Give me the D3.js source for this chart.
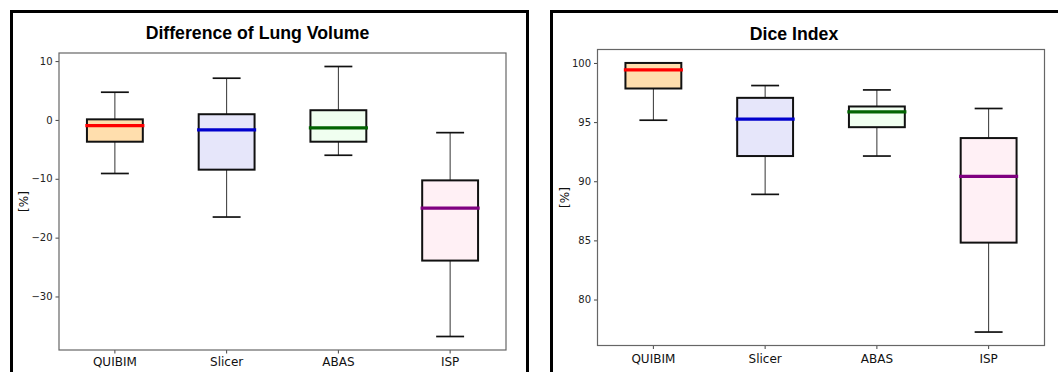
<!DOCTYPE html>
<html>
<head>
<meta charset="utf-8">
<script src="https://cdn.jsdelivr.net/npm/d3@7"></script>
<style>
  html, body { margin: 0; padding: 0; background: #fff; }
  svg { display: block; }
</style>
</head>
<body>
<svg id="fig" width="1058" height="372"></svg>
<script>
// Segmentation methods compared in both panels
const methods = ["QUIBIM", "Slicer", "ABAS", "ISP"];

// Difference of lung volume [%]: whisker low, Q1, median, Q3, whisker high
const volLow    = [-9.1, -16.5, -6.0, -36.8];
const volQ1     = [-3.7, -8.45, -3.7, -23.9];
const volMedian = [-0.97, -1.7, -1.36, -15.0];
const volQ3     = [0.1, 0.97, 1.65, -10.27];
const volHigh   = [4.71, 7.09, 9.08, -2.16];
const volTicks  = [10, 0, -10, -20, -30];

// Dice index [%]
const diceLow    = [95.16, 88.89, 92.13, 77.25];
const diceQ1     = [97.84, 92.13, 94.57, 84.81];
const diceMedian = [99.41, 95.25, 95.87, 90.41];
const diceQ3     = [100.0, 97.05, 96.32, 93.65];
const diceHigh   = [100.0, 98.09, 97.72, 96.15];
const diceTicks  = [100, 95, 90, 85, 80];

const boxFill    = ["#ffdead", "#e6e6fa", "#f0fff0", "#fff0f5"];
const medianColor = ["#ff0000", "#0000cd", "#006400", "#800080"];

const svg = d3.select("#fig");
const minus = v => String(v).replace("-", "\u2212");

// frames around each figure
svg.append("rect").attr("x", 11.5).attr("y", 11.5).attr("width", 516).attr("height", 400)
  .attr("fill", "none").attr("stroke", "#000").attr("stroke-width", 3);
svg.append("rect").attr("x", 551.5).attr("y", 11.5).attr("width", 600).attr("height", 400)
  .attr("fill", "none").attr("stroke", "#000").attr("stroke-width", 3);

function panel(cfg) {
  const { x0, x1, y0, y1, title, titleX, titleY, labelX, xLabelY,
          low, q1, med, q3, high, ticks } = cfg;
  const g = svg.append("g");

  const lo = d3.min(low), hi = d3.max(high), pad = (hi - lo) * 0.05;
  const y = d3.scaleLinear().domain([lo - pad, hi + pad]).range([y1, y0]);
  const x = d3.scaleBand().domain(methods).range([x0, x1]).padding(0);
  const bw = x.bandwidth();
  const cx = m => x(m) + bw / 2;

  const rows = methods.map((m, i) => ({
    m, i, low: low[i], q1: q1[i], med: med[i], q3: q3[i], high: high[i]
  }));

  // y axis
  const ya = g.append("g").attr("transform", `translate(${x0},0)`)
    .call(d3.axisLeft(y).tickValues(ticks).tickSize(3.5).tickPadding(3).tickFormat(minus));
  ya.select(".domain").remove();
  ya.selectAll("line").attr("stroke", "#444");
  ya.selectAll("text").attr("font-family", "DejaVu Sans").attr("font-size", 10).attr("fill", "#222");

  // x axis
  const xa = g.append("g").attr("transform", `translate(0,${y1})`)
    .call(d3.axisBottom(x).tickSize(3.5).tickPadding(4));
  xa.select(".domain").remove();
  xa.selectAll("line").attr("stroke", "#444");
  xa.selectAll("text").attr("font-family", "DejaVu Sans").attr("font-size", 12).attr("fill", "#111")
    .attr("y", null).attr("dy", null).attr("transform", `translate(0,${xLabelY - y1})`);

  // whiskers
  const items = g.selectAll(".item").data(rows).join("g");
  items.append("line").attr("x1", d => cx(d.m)).attr("x2", d => cx(d.m))
    .attr("y1", d => y(d.q3)).attr("y2", d => y(d.high))
    .attr("stroke", "#333").attr("stroke-width", 1);
  items.append("line").attr("x1", d => cx(d.m)).attr("x2", d => cx(d.m))
    .attr("y1", d => y(d.q1)).attr("y2", d => y(d.low))
    .attr("stroke", "#333").attr("stroke-width", 1);
  // caps
  [d => d.high, d => d.low].forEach(acc => {
    items.append("line")
      .attr("x1", d => cx(d.m) - bw * 0.125).attr("x2", d => cx(d.m) + bw * 0.125)
      .attr("y1", d => y(acc(d))).attr("y2", d => y(acc(d)))
      .attr("stroke", "#111").attr("stroke-width", 1.7);
  });
  // boxes
  items.append("rect")
    .attr("x", d => cx(d.m) - bw * 0.25).attr("width", bw * 0.5)
    .attr("y", d => y(d.q3)).attr("height", d => y(d.q1) - y(d.q3))
    .attr("fill", d => boxFill[d.i]).attr("stroke", "#111").attr("stroke-width", 2);
  // medians
  items.append("line")
    .attr("x1", d => cx(d.m) - bw * 0.25).attr("x2", d => cx(d.m) + bw * 0.25)
    .attr("y1", d => y(d.med)).attr("y2", d => y(d.med))
    .attr("stroke", d => medianColor[d.i]).attr("stroke-width", 3.2).attr("stroke-linecap", "square");

  // axes frame
  g.append("rect").attr("x", x0).attr("y", y0).attr("width", x1 - x0).attr("height", y1 - y0)
    .attr("fill", "none").attr("stroke", "#666").attr("stroke-width", 1.2);

  // title & y label
  g.append("text").attr("x", titleX).attr("y", titleY).attr("text-anchor", "middle")
    .attr("font-family", "Liberation Sans, Arial, sans-serif").attr("font-weight", "bold")
    .attr("font-size", 17.7).attr("fill", "#000").text(title);
  g.append("text")
    .attr("transform", `translate(${labelX},${(y0 + y1) / 2}) rotate(-90)`)
    .attr("text-anchor", "middle").attr("dy", "0.35em")
    .attr("font-family", "DejaVu Sans").attr("font-size", 12).attr("fill", "#111").text("[%]");
}

panel({ x0: 59, x1: 506, y0: 53, y1: 350, title: "Difference of Lung Volume",
        titleX: 257.5, titleY: 38.5, labelX: 24, xLabelY: 366,
        low: volLow, q1: volQ1, med: volMedian, q3: volQ3, high: volHigh, ticks: volTicks });
panel({ x0: 597.5, x1: 1044.5, y0: 49.5, y1: 345.5, title: "Dice Index",
        titleX: 794, titleY: 39.5, labelX: 565, xLabelY: 362.5,
        low: diceLow, q1: diceQ1, med: diceMedian, q3: diceQ3, high: diceHigh, ticks: diceTicks });
</script>
</body>
</html>
